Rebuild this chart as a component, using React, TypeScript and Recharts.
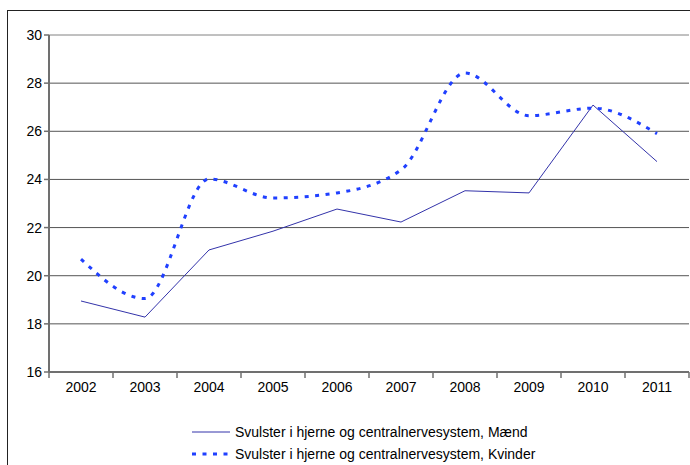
import { LineChart, Line, XAxis, YAxis, CartesianGrid, ReferenceLine, Legend } from 'recharts'

const years = ['2002', '2003', '2004', '2005', '2006', '2007', '2008', '2009', '2010', '2011']
const maend = [18.95, 18.28, 21.07, 21.85, 22.77, 22.23, 23.53, 23.44, 27.09, 24.74]
const kvinder = [20.69, 19.05, 24.02, 23.23, 23.44, 24.39, 28.42, 26.65, 26.96, 25.9]
const yTicks = [16, 18, 20, 22, 24, 26, 28, 30]

const MAEND_LABEL = 'Svulster i hjerne og centralnervesystem, Mænd'
const KVINDER_LABEL = 'Svulster i hjerne og centralnervesystem, Kvinder'

const data = years.map((y, i) => ({ year: y, maend: maend[i], kvinder: kvinder[i] }))

const FONT = '"Liberation Sans", Arial, sans-serif'
const HALF_BAND = 32

// category label at band centre, tick marks on the band edges
// eslint-disable-next-line @typescript-eslint/no-explicit-any
function YearTick(props: any) {
  const { x, y, payload, index } = props
  return (
    <g>
      <line x1={x - HALF_BAND} x2={x - HALF_BAND} y1={y - 8} y2={y - 2} stroke="#707070" strokeWidth={1.5} />
      {index === years.length - 1 && (
        <line x1={x + HALF_BAND} x2={x + HALF_BAND} y1={y - 8} y2={y - 2} stroke="#707070" strokeWidth={1.5} />
      )}
      <text x={x} y={y + 12} textAnchor="middle" fill="#000" fontSize={14} fontFamily={FONT}>
        {payload.value}
      </text>
    </g>
  )
}

function LegendBox() {
  return (
    <div style={{ fontFamily: FONT, fontSize: 14, color: '#000', lineHeight: '22px' }}>
      <div style={{ display: 'flex', alignItems: 'center' }}>
        <svg width={45} height={10}>
          <line x1={2} x2={40} y1={5} y2={5} stroke="#3333aa" strokeWidth={1} />
        </svg>
        <span>{MAEND_LABEL}</span>
      </div>
      <div style={{ display: 'flex', alignItems: 'center' }}>
        <svg width={45} height={10}>
          <line x1={2} x2={42} y1={5} y2={5} stroke="#2040ff" strokeWidth={3} strokeDasharray="4 6.5" />
        </svg>
        <span>{KVINDER_LABEL}</span>
      </div>
    </div>
  )
}

export default function App() {
  return (
    <div style={{ position: 'fixed', left: 0, top: 0, width: 690, height: 465, background: '#fff', overflow: 'hidden' }}>
      <div
        style={{
          position: 'absolute',
          left: 7,
          top: 10,
          width: 720,
          height: 500,
          borderLeft: '1.5px solid #222',
          borderTop: '1.5px solid #222',
        }}
      />
      <div style={{ position: 'absolute', left: 0, top: 0 }}>
        <LineChart width={690} height={465} data={data} margin={{ top: 35, right: 1, left: 0, bottom: 63 }}>
          <CartesianGrid vertical={false} stroke="#555" strokeWidth={1} />
          <ReferenceLine y={30} stroke="#c8c8c8" strokeWidth={1.5} />
          <XAxis
            dataKey="year"
            scale="band"
            height={30}
            tickLine={false}
            axisLine={{ stroke: '#707070', strokeWidth: 2 }}
            tick={<YearTick />}
            interval={0}
          />
          <YAxis
            domain={[16, 30]}
            ticks={yTicks}
            interval={0}
            width={49}
            axisLine={{ stroke: '#707070', strokeWidth: 2 }}
            tickLine={{ stroke: '#707070', strokeWidth: 1.5 }}
            tickSize={5}
            tick={{ fill: '#000', fontSize: 14, fontFamily: FONT }}
          />
          <Legend
            layout="horizontal"
            verticalAlign="middle"
            align="center"
            content={<LegendBox />}
            wrapperStyle={{ position: 'absolute', left: 190, top: 421, width: 440 }}
          />
          <Line
            type="linear"
            dataKey="maend"
            name={MAEND_LABEL}
            stroke="#3333aa"
            strokeWidth={1}
            dot={false}
            isAnimationActive={false}
          />
          <Line
            type="monotone"
            dataKey="kvinder"
            name={KVINDER_LABEL}
            stroke="#2040ff"
            strokeWidth={3}
            strokeDasharray="4 6.5"
            dot={false}
            isAnimationActive={false}
          />
        </LineChart>
      </div>
    </div>
  )
}
